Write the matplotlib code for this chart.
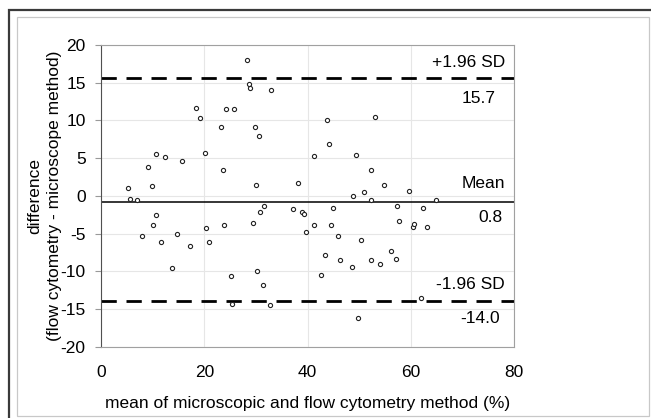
"""Bland-Altman plot: flow cytometry vs microscope method."""
import matplotlib
matplotlib.use("Agg")
import matplotlib.pyplot as plt
from matplotlib.patches import Rectangle

plt.rcParams["font.family"] = ["Liberation Sans", "DejaVu Sans"]
plt.rcParams["font.size"] = 12.5
plt.rcParams["axes.unicode_minus"] = False

# mean of the two methods (%)
mean_vals = [5.2, 5.7, 7.0, 7.9, 9.1, 9.9, 10.1, 10.7, 10.7, 11.6,
             12.5, 13.7, 14.7, 15.6, 17.3, 18.4, 19.1, 20.1, 20.4, 20.9,
             23.3, 23.7, 23.9, 24.3, 25.2, 25.4, 25.7, 28.3, 28.7, 28.9,
             29.4, 29.8, 30.1, 30.3, 30.5, 30.7, 31.4, 31.5, 32.8, 33.0,
             37.2, 38.1, 38.9, 39.3, 39.6, 41.3, 41.3, 43.3, 42.5, 43.7,
             44.1, 44.5, 44.9, 45.9, 46.3, 48.6, 48.7, 49.4, 49.8, 50.3,
             50.9, 52.2, 52.2, 52.2, 53.1, 54.0, 54.7, 56.2, 57.1, 57.3,
             57.7, 59.6, 60.4, 60.6, 61.9, 62.3, 63.2, 64.9]
# difference (flow cytometry - microscope)
diff_vals = [1.1, -0.4, -0.5, -5.35, 3.8, 1.24, -3.9, 5.5, -2.5, -6.15,
             5.2, -9.6, -5.1, 4.6, -6.7, 11.6, 10.3, 5.75, -4.3, -6.15,
             9.2, 3.4, -3.9, 11.5, -10.6, -14.4, 11.5, 18.05, 14.9, 14.3,
             -3.6, 9.1, 1.4, -10.0, 8.0, -2.2, -11.8, -1.3, -14.5, 14.0,
             -1.8, 1.7, -2.2, -2.4, -4.8, -3.9, 5.3, -7.8, -10.5, 10.1,
             6.9, -3.9, -1.6, -5.35, -8.5, -9.4, 0.04, 5.4, -16.2, -5.8,
             0.5, 3.4, -0.5, -8.5, 10.5, -9.0, 1.4, -7.3, -8.4, -1.3,
             -3.3, 0.66, -4.2, -3.7, -13.5, -1.6, -4.2, -0.5]

mean_diff = -0.8
upper_loa = 15.6
lower_loa = -14.0
x_ticks = [0, 20, 40, 60, 80]
y_ticks = [-20, -15, -10, -5, 0, 5, 10, 15, 20]

fig = plt.figure(figsize=(6.51, 4.18), dpi=100)
ax = fig.add_axes([0.155, 0.171, 0.635, 0.721])

# frame around the whole chart
fig.patches.append(Rectangle((0.026, 0.005), 0.971, 0.954, transform=fig.transFigure,
                             fill=False, edgecolor="#c8c8c8", lw=0.9))
fig.patches.append(Rectangle((0.0138, -0.05), 1.05, 1.026, transform=fig.transFigure,
                             fill=False, edgecolor="#3a3a3a", lw=1.6))

ax.grid(True, color="#e6e6e6", lw=0.8)
ax.set_axisbelow(True)

ax.scatter(mean_vals, diff_vals, s=9, facecolors="white", edgecolors="#222222",
           linewidths=0.8, zorder=3)

ax.axhline(mean_diff, color="black", lw=1.1, zorder=2)
for lvl in (upper_loa, lower_loa):
    ax.axhline(lvl, color="black", lw=2.0, dashes=(5.5, 3.5), zorder=2)

ax.text(78.2, 17.65, "+1.96 SD", ha="right", va="center")
ax.text(76.4, 12.9, "15.7", ha="right", va="center")
ax.text(78.2, 1.6, "Mean", ha="right", va="center")
ax.text(77.8, -2.9, "0.8", ha="right", va="center")
ax.text(78.2, -11.8, "-1.96 SD", ha="right", va="center")
ax.text(77.2, -16.3, "-14.0", ha="right", va="center")

ax.set_xlim(0, 80)
ax.set_ylim(-20, 20)
ax.set_xticks(x_ticks)
ax.set_yticks(y_ticks)
ax.tick_params(axis="x", length=0, pad=13)
ax.tick_params(axis="y", length=4, color="#999999", pad=7)

for side in ("top", "right", "bottom"):
    ax.spines[side].set_color("#a0a0a0")
ax.spines["left"].set_color("#505050")

ax.set_xlabel("mean of microscopic and flow cytometry method (%)", labelpad=12)
ax.set_ylabel("difference\n(flow cytometry - microscope method)", linespacing=1.4)
ax.yaxis.set_label_coords(-0.093, 0.5)

fig.savefig("out.png", dpi=100)
